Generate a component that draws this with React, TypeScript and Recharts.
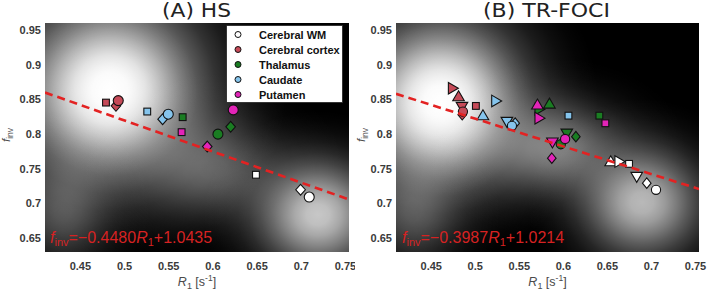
import React from 'react';
import { ScatterChart, Scatter, XAxis, YAxis, ReferenceArea, Label } from 'recharts';

// Regions and their marker colours
const regionNames = ['Cerebral WM', 'Cerebral cortex', 'Thalamus', 'Caudate', 'Putamen'];
const regionColors = ['#ffffff', '#c64a58', '#1a7d22', '#85c4ec', '#e324b8'];

// Shared axis setup
const xDomain = [0.41, 0.754];
const yDomain = [0.63, 0.96];
const xTicks = [0.45, 0.5, 0.55, 0.6, 0.65, 0.7, 0.75];
const yTicks = [0.65, 0.7, 0.75, 0.8, 0.85, 0.9, 0.95];

// (A) HS: one row per region, one column per marker shape
const hsShapes = ['circle', 'square', 'diamond'];
const hsR1 = [
  [0.709, 0.6487, 0.6992],
  [0.4929, 0.479, 0.4903],
  [0.6057, 0.5658, 0.6201],
  [0.5495, 0.5257, 0.5431],
  [0.623, 0.5646, 0.5936],
];
const hsFinv = [
  [0.7092, 0.7413, 0.7197],
  [0.8482, 0.8453, 0.8406],
  [0.7998, 0.8243, 0.8104],
  [0.8286, 0.8324, 0.8214],
  [0.8348, 0.8027, 0.782],
];
const hsFit = { slope: -0.448, intercept: 1.0435 };

// (B) TR-FOCI
const trShapes = ['circle', 'square', 'diamond', 'up', 'down', 'right'];
const trR1 = [
  [0.7052, 0.6746, 0.6947, 0.6538, 0.6833, 0.6633],
  [0.486, 0.5007, 0.4852, 0.481, 0.4849, 0.4742],
  [0.5971, 0.6409, 0.6142, 0.5842, 0.6039, 0.5725],
  [0.5416, 0.6058, 0.5453, 0.5087, 0.5359, 0.5234],
  [0.602, 0.6477, 0.5869, 0.5706, 0.5876, 0.5725],
];
const trFinv = [
  [0.7196, 0.757, 0.7292, 0.7603, 0.7387, 0.7603],
  [0.8324, 0.8405, 0.8277, 0.854, 0.8396, 0.866],
  [0.7853, 0.8265, 0.7962, 0.8434, 0.8011, 0.8358],
  [0.8118, 0.8265, 0.8157, 0.8265, 0.818, 0.8477],
  [0.7929, 0.8155, 0.7652, 0.842, 0.7882, 0.8229],
];
const trFit = { slope: -0.3987, intercept: 1.0214 };

// Soft density glow behind each panel (data coordinates: centre, radii, strength)
const hsGlow = [
  { cx: 0.4835, cy: 0.8636, rx: 0.2, ry: 0.25, a: 1 },
  { cx: 0.4835, cy: 0.86, rx: 0.1, ry: 0.12, a: 0.7 },
  { cx: 0.6, cy: 0.75, rx: 0.15, ry: 0.14, a: 0.35 },
  { cx: 0.7188, cy: 0.6837, rx: 0.13, ry: 0.15, a: 0.78 },
  { cx: 0.43, cy: 0.69, rx: 0.1, ry: 0.15, a: 0.3 },
];
const trGlow = [
  { cx: 0.4602, cy: 0.8463, rx: 0.18, ry: 0.23, a: 1 },
  { cx: 0.462, cy: 0.842, rx: 0.1, ry: 0.13, a: 0.7 },
  { cx: 0.59, cy: 0.78, rx: 0.15, ry: 0.13, a: 0.48 },
  { cx: 0.6894, cy: 0.7011, rx: 0.13, ry: 0.15, a: 0.72 },
  { cx: 0.43, cy: 0.69, rx: 0.1, ry: 0.15, a: 0.3 },
];

type Pt = { x: number; y: number; kind: string };

function buildSeries(shapes: string[], r1: number[][], finv: number[][]): Pt[][] {
  return r1.map((row, i) => {
    const pts = row.map((x, j) => ({ x, y: finv[i][j], kind: shapes[j] }));
    // circles go on top within each region
    return [...pts.slice(1), pts[0]];
  });
}

type Sizes = { r: number; sq: number; dw: number; dh: number; t: number };
const hsSizes: Sizes = { r: 5, sq: 3.4, dw: 4.8, dh: 5.4, t: 5.5 };
const trSizes: Sizes = { r: 4.6, sq: 3.4, dw: 4.3, dh: 5.2, t: 5.8 };

function Marker({ cx, cy, kind, color, s }: { cx: number; cy: number; kind: string; color: string; s: Sizes }) {
  const common = { fill: color, stroke: '#111', strokeWidth: 1.1 };
  const t = s.t;
  switch (kind) {
    case 'circle':
      return <circle cx={cx} cy={cy} r={s.r} {...common} />;
    case 'square':
      return <rect x={cx - s.sq} y={cy - s.sq} width={2 * s.sq} height={2 * s.sq} {...common} />;
    case 'diamond':
      return <polygon points={`${cx},${cy - s.dh} ${cx + s.dw},${cy} ${cx},${cy + s.dh} ${cx - s.dw},${cy}`} {...common} />;
    case 'up':
      return <polygon points={`${cx},${cy - t} ${cx + t},${cy + t * 0.72} ${cx - t},${cy + t * 0.72}`} {...common} />;
    case 'down':
      return <polygon points={`${cx - t},${cy - t * 0.72} ${cx + t},${cy - t * 0.72} ${cx},${cy + t}`} {...common} />;
    case 'right':
      return <polygon points={`${cx - t * 0.72},${cy - t} ${cx + t},${cy} ${cx - t * 0.72},${cy + t}`} {...common} />;
    default:
      return <g />;
  }
}

const tickStyle = { fill: '#3a3a3a', fontSize: 11, fontWeight: 700, fontFamily: 'Liberation Sans, Arial, sans-serif' };

function XTitle(props: any) {
  const vb = props.viewBox || {};
  const cx = vb.x + vb.width / 2;
  const y = vb.y + 34;
  return (
    <text x={cx} y={y} textAnchor="middle" fontSize={12.5} fill="#4a4a4a" fontFamily="Liberation Sans, Arial, sans-serif">
      <tspan fontStyle="italic">R</tspan>
      <tspan fontSize={9} dy={3}>1</tspan>
      <tspan dy={-3}> [s</tspan>
      <tspan fontSize={8.5} dy={-5}>-1</tspan>
      <tspan dy={5}>]</tspan>
    </text>
  );
}

function YTitle({ viewBox, bx }: any) {
  const vb = viewBox || {};
  const cy = 135;
  const x = (vb.x || 0) + bx;
  return (
    <text x={x} y={cy} transform={`rotate(-90, ${x}, ${cy})`} textAnchor="middle" fontSize={11.5} fill="#4a4a4a" fontFamily="Liberation Sans, Arial, sans-serif">
      <tspan fontStyle="italic">f</tspan>
      <tspan fontSize={8.5} dy={3}>inv</tspan>
    </text>
  );
}

function Panel({
  width, left, yAxisWidth, marginRight, shapes, r1, finv, fit, glow, sizes, yLabelX,
}: any) {
  const series = buildSeries(shapes, r1, finv);
  const fitLine = [xDomain[0], xDomain[1]].map((x) => ({ x, y: fit.slope * x + fit.intercept }));
  return (
    <div style={{ position: 'absolute', left, top: 0 }}>
      <ScatterChart width={width} height={292} margin={{ top: 23, right: marginRight, bottom: 0, left: 0 }}>
        <XAxis
          type="number" dataKey="x" domain={xDomain} ticks={xTicks} interval={0} allowDataOverflow
          axisLine={false} tickLine={false} tickSize={0} tickMargin={10} height={40} tick={tickStyle}
          tickFormatter={(v: number) => String(v)}
        >
          <Label content={(p: any) => <XTitle {...p} />} />
        </XAxis>
        <YAxis
          type="number" dataKey="y" domain={yDomain} ticks={yTicks} interval={0} allowDataOverflow
          axisLine={false} tickLine={false} tickSize={0} tickMargin={4} width={yAxisWidth} tick={tickStyle}
          tickFormatter={(v: number) => String(v)}
        >
          <Label content={(p: any) => <YTitle {...p} bx={yLabelX} />} />
        </YAxis>
        <ReferenceArea x1={xDomain[0]} x2={xDomain[1]} y1={yDomain[0]} y2={yDomain[1]} fill="#000" fillOpacity={1} stroke="none" ifOverflow="hidden" />
        {glow.map((g: any, i: number) => (
          <ReferenceArea
            key={`g${i}`} x1={g.cx - g.rx} x2={g.cx + g.rx} y1={g.cy - g.ry} y2={g.cy + g.ry}
            fill="url(#densityGlow)" fillOpacity={g.a} stroke="none" ifOverflow="hidden"
          />
        ))}
        {series.map((pts, i) => (
          <Scatter
            key={regionNames[i]} name={regionNames[i]} data={pts} isAnimationActive={false}
            shape={(p: any) => <Marker cx={p.cx} cy={p.cy} kind={p.payload.kind} color={regionColors[i]} s={sizes} />}
          />
        ))}
        <Scatter
          data={fitLine} isAnimationActive={false}
          line={{ stroke: '#e32222', strokeWidth: 2.6, strokeDasharray: '8 5' }}
          shape={() => <g />}
        />
      </ScatterChart>
    </div>
  );
}

function Equation({ x, y, fit }: { x: number; y: number; fit: { slope: number; intercept: number } }) {
  const slope = fit.slope.toFixed(4).replace('-', '\u2212');
  const icp = fit.intercept.toFixed(4);
  return (
    <text x={x} y={y} fill="#d62222" fontSize={16} fontFamily="Liberation Sans, Arial, sans-serif">
      <tspan fontStyle="italic">f</tspan>
      <tspan fontSize={11} dy={3}>inv</tspan>
      <tspan dy={-3}>={slope}</tspan>
      <tspan fontStyle="italic">R</tspan>
      <tspan fontSize={11} dy={3}>1</tspan>
      <tspan dy={-3}>+{icp}</tspan>
    </text>
  );
}

export default function App() {
  return (
    <div style={{ position: 'absolute', left: 0, top: 0, width: 709, height: 292, background: '#fff', overflow: 'hidden' }}>
      <svg width={0} height={0} style={{ position: 'absolute' }}>
        <defs>
          <radialGradient id="densityGlow" cx="0.5" cy="0.5" r="0.5">
            <stop offset="0" stopColor="#fff" stopOpacity={1} />
            <stop offset="0.1" stopColor="#fff" stopOpacity={0.96} />
            <stop offset="0.2" stopColor="#fff" stopOpacity={0.84} />
            <stop offset="0.3" stopColor="#fff" stopOpacity={0.67} />
            <stop offset="0.4" stopColor="#fff" stopOpacity={0.49} />
            <stop offset="0.5" stopColor="#fff" stopOpacity={0.33} />
            <stop offset="0.6" stopColor="#fff" stopOpacity={0.2} />
            <stop offset="0.7" stopColor="#fff" stopOpacity={0.11} />
            <stop offset="0.8" stopColor="#fff" stopOpacity={0.055} />
            <stop offset="0.9" stopColor="#fff" stopOpacity={0.02} />
            <stop offset="1" stopColor="#fff" stopOpacity={0} />
          </radialGradient>
        </defs>
      </svg>
      <Panel
        width={355} left={0} yAxisWidth={45} marginRight={6} shapes={hsShapes} r1={hsR1} finv={hsFinv}
        fit={hsFit} glow={hsGlow} sizes={hsSizes} yLabelX={10}
      />
      <Panel
        width={354} left={355} yAxisWidth={41} marginRight={10} shapes={trShapes} r1={trR1} finv={trFinv}
        fit={trFit} glow={trGlow} sizes={trSizes} yLabelX={9.5}
      />
      <svg width={709} height={292} style={{ position: 'absolute', left: 0, top: 0, pointerEvents: 'none' }}>
        <g fontFamily="DejaVu Sans, sans-serif" fontSize={19} fill="#222">
          <text x={162} y={17} textLength={69} lengthAdjust="spacingAndGlyphs">(A) HS</text>
          <text x={483} y={17} textLength={127} lengthAdjust="spacingAndGlyphs">(B) TR-FOCI</text>
        </g>
        <Equation x={50} y={243} fit={hsFit} />
        <Equation x={402} y={243} fit={trFit} />
        <g>
          <rect x={226.5} y={25.5} width={116} height={77} fill="#fff" stroke="#222" strokeWidth={0.8} />
          {regionNames.map((name, i) => (
            <g key={name}>
              <circle cx={238} cy={34.5 + 15 * i} r={3} fill={regionColors[i]} stroke="#111" strokeWidth={1} />
              <text x={259} y={38.5 + 15 * i} fontSize={11} fontWeight={700} fill="#111" fontFamily="Liberation Sans, Arial, sans-serif">
                {name}
              </text>
            </g>
          ))}
        </g>
      </svg>
    </div>
  );
}
